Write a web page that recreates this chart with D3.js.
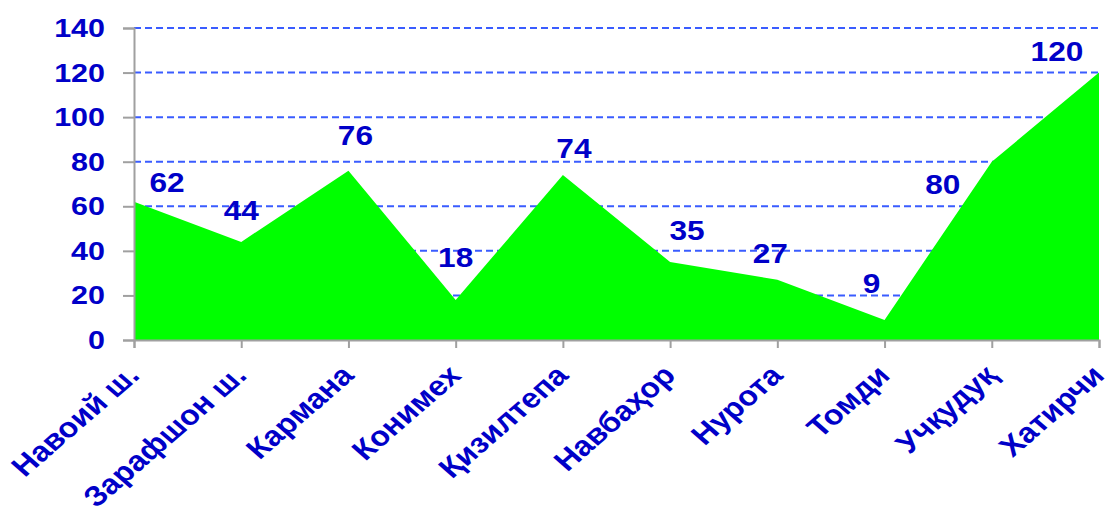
<!DOCTYPE html>
<html>
<head>
<meta charset="utf-8">
<script src="https://cdn.jsdelivr.net/npm/d3@7"></script>
<style>
  body { margin: 0; background: #fff; }
  svg { display: block; font-family: "Liberation Sans", Arial, sans-serif; }
</style>
</head>
<body>
<div id="chart"></div>
<script>
// -------- Data --------
const districts = ["Навоий ш.", "Зарафшон ш.", "Кармана", "Конимех", "Қизилтепа",
                   "Навбаҳор", "Нурота", "Томди", "Учқудуқ", "Хатирчи"];
const values = [62, 44, 76, 18, 74, 35, 27, 9, 80, 120];
const yTicks = [0, 20, 40, 60, 80, 100, 120, 140];

// value label nudges (dx, dy) relative to each point
const labelShift = [[33, -10], [0, -22], [7, -26], [0, -33], [11, -17],
                    [17, -22], [-7, -17], [-13, -27], [-49, 32], [-42, -12]];

const width = 1108;
const height = 506;
const margin = { top: 28, right: 9, bottom: 166, left: 134 };
const blue = "#0000c8";
const stretch = 1.15; // the original text is a bit wide

const svg = d3.select("#chart").append("svg")
  .attr("width", width)
  .attr("height", height);

const x = d3.scalePoint()
  .domain(districts)
  .range([margin.left, width - margin.right]);

const y = d3.scaleLinear()
  .domain([0, 140])
  .range([height - margin.bottom, margin.top]);

// -------- Gridlines --------
svg.append("g")
  .selectAll("line")
  .data(yTicks.filter(d => d > 0))
  .join("line")
  .attr("x1", margin.left)
  .attr("x2", width - margin.right)
  .attr("y1", d => y(d))
  .attr("y2", d => y(d))
  .attr("stroke", "#3a5cff")
  .attr("stroke-width", 2)
  .attr("stroke-dasharray", "7,4");

// -------- Area --------
const area = d3.area()
  .x((d, i) => x(districts[i]))
  .y0(y(0))
  .y1(d => y(d));

svg.append("path")
  .datum(values)
  .attr("d", area)
  .attr("fill", "#00ff00");

// -------- Axes --------
const yAxis = svg.append("g")
  .attr("transform", `translate(${margin.left},0)`)
  .call(d3.axisLeft(y).tickValues(yTicks).tickSize(11).tickPadding(18));

const xAxis = svg.append("g")
  .attr("transform", `translate(0,${y(0)})`)
  .call(d3.axisBottom(x).tickSize(8).tickFormat(""));

[yAxis, xAxis].forEach(g => {
  g.select(".domain").attr("stroke", "#a0a0a0").attr("stroke-width", 2);
  g.selectAll(".tick line").attr("stroke", "#a0a0a0").attr("stroke-width", 2);
});

yAxis.selectAll(".tick text")
  .attr("x", 0)
  .attr("transform", `translate(-29,0) scale(${stretch},1)`)
  .attr("fill", blue)
  .attr("font-size", 26.5)
  .attr("font-weight", "bold")
  .attr("font-family", "'Liberation Sans', Arial, sans-serif");

// rotated category labels
svg.append("g")
  .selectAll("text")
  .data(districts)
  .join("text")
  .attr("transform", d => `translate(${x(d) + 7},${y(0) + 37}) scale(${stretch},1) rotate(-45)`)
  .attr("text-anchor", "end")
  .attr("fill", blue)
  .attr("font-size", 28)
  .attr("font-weight", "bold")
  .text(d => d);

// -------- Value labels --------
svg.append("g")
  .selectAll("text")
  .data(values)
  .join("text")
  .attr("transform", (d, i) =>
    `translate(${x(districts[i]) + labelShift[i][0]},${y(d) + labelShift[i][1]}) scale(${stretch},1)`)
  .attr("text-anchor", "middle")
  .attr("fill", blue)
  .attr("font-size", 27.5)
  .attr("font-weight", "bold")
  .text(d => d);
</script>
</body>
</html>
